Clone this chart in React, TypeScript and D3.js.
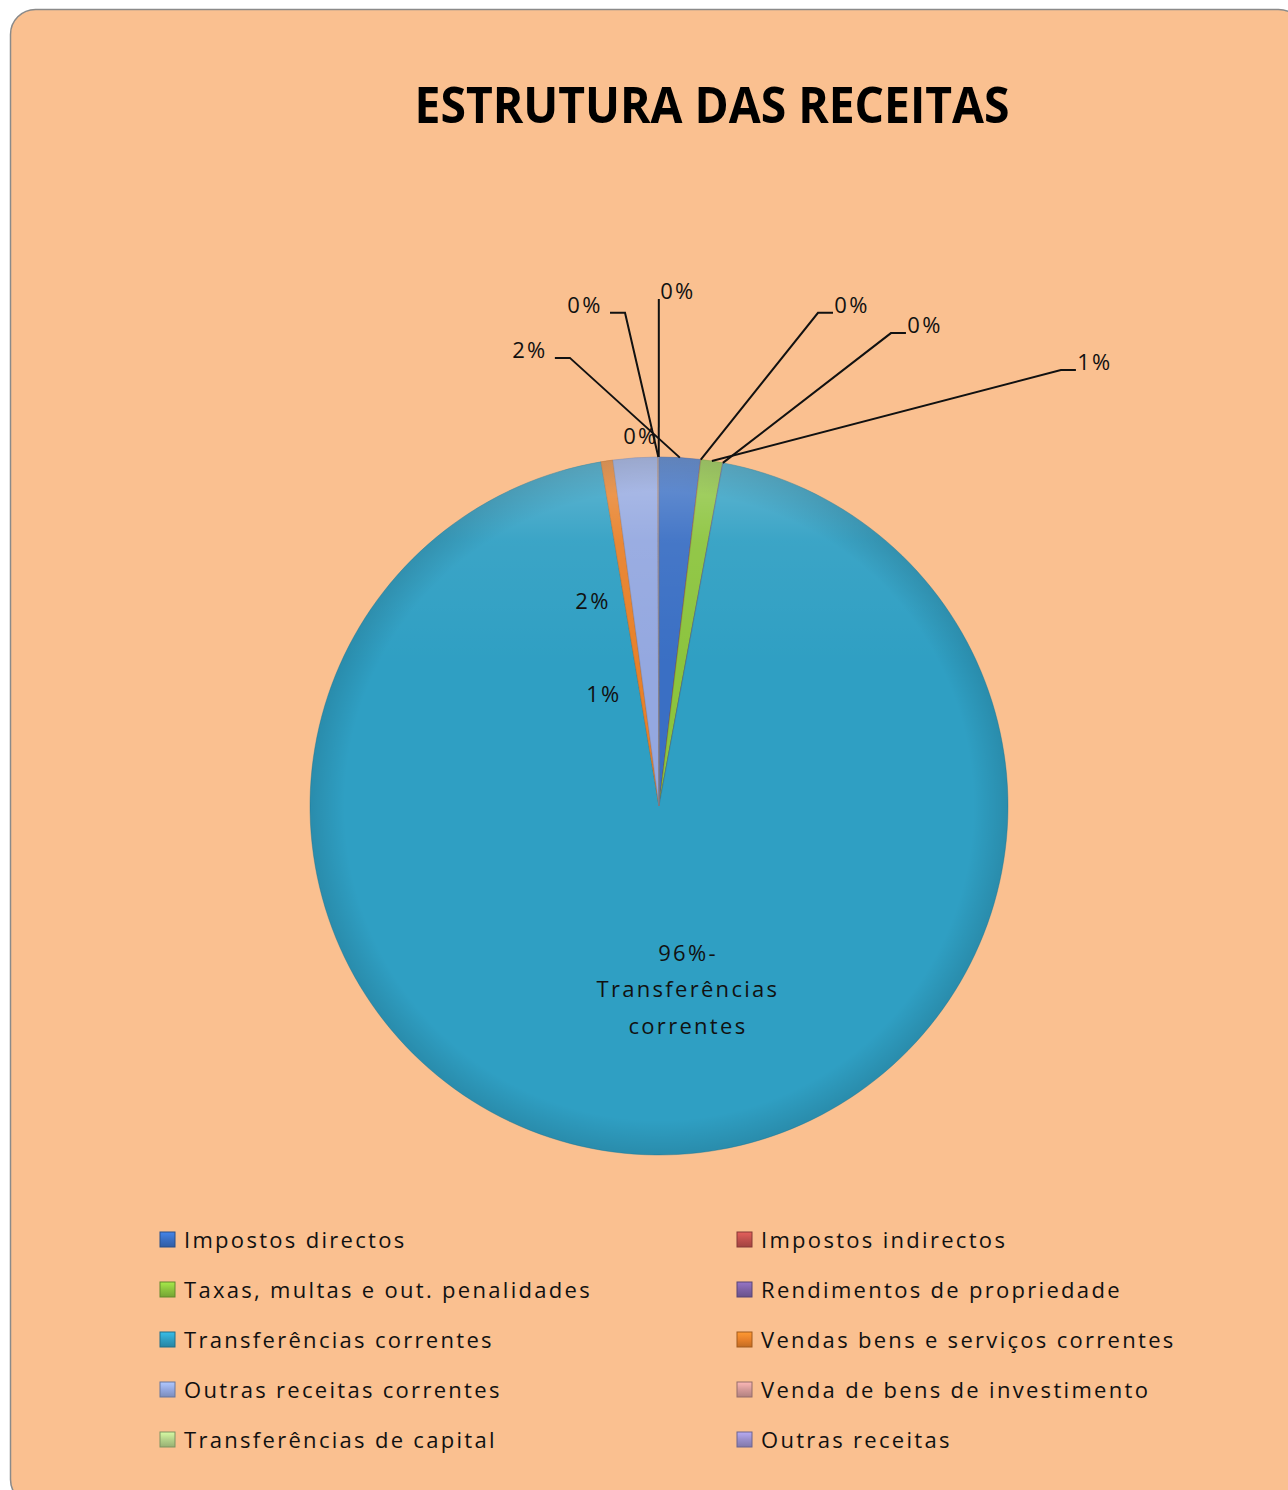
import React from 'react';
import * as d3 from 'd3';

// ---- data ----
const title = 'ESTRUTURA DAS RECEITAS';
const categories = [
  'Impostos directos',
  'Impostos indirectos',
  'Taxas, multas e out. penalidades',
  'Rendimentos de propriedade',
  'Transferências correntes',
  'Vendas bens e serviços correntes',
  'Outras receitas correntes',
  'Venda de bens de investimento',
  'Transferências de capital',
  'Outras receitas',
];
const values = [1.9, 0.02, 1.0, 0.02, 94.4, 0.55, 2.05, 0.02, 0.02, 0.02];
const dataLabels = ['2%', '0%', '1%', '0%', '96%-|Transferências|correntes', '1%', '2%', '0%', '0%', '0%'];
const colors = [
  '#3a6fc4', '#c0504d', '#8cc43e', '#7e62a6', '#2f9fc3',
  '#e8812a', '#94a8e0', '#d49a99', '#b4d28a', '#9a8fcb',
];

// ---- layout (label placement relative to pie centre, in radius units) ----
const labelOffsets: [number, number][] = [
  [-0.370, -1.284],
  [0.553, -1.413],
  [1.249, -1.249],
  [0.762, -1.355],
  [0.083, 0.444],
  [-0.158, -0.298],
  [-0.189, -0.564],
  [-0.052, -1.037],
  [-0.212, -1.413],
  [0.054, -1.453],
];

const W = 1288;
const H = 1490;
const CX = 659;
const CY = 806;
const R = 349;
const FONT = "'Open Sans', 'DejaVu Sans', sans-serif";

export default function App() {
  const pie = d3.pie<number>().sort(null).value((d) => d)(values);
  const arc = d3.arc<d3.PieArcDatum<number>>().innerRadius(0).outerRadius(R);

  const legendCols = [160, 737];
  const legendY0 = 1240;
  const legendStep = 50;

  return (
    <svg
      width={W}
      height={H}
      viewBox={`0 0 ${W} ${H}`}
      style={{ position: 'absolute', left: 0, top: 0, display: 'block' }}
    >
      <defs>
        <radialGradient id="rim" cx="0.5" cy="0.5" r="0.5">
          <stop offset="0.9" stopColor="#000" stopOpacity="0" />
          <stop offset="1" stopColor="#000" stopOpacity="0.12" />
        </radialGradient>
        <linearGradient id="topHi" x1="0" y1="0" x2="0" y2="1">
          <stop offset="0" stopColor="#fff" stopOpacity="0.26" />
          <stop offset="0.12" stopColor="#fff" stopOpacity="0.06" />
          <stop offset="0.3" stopColor="#fff" stopOpacity="0" />
        </linearGradient>
        {colors.map((c, i) => {
          const base = d3.color(c)!;
          return (
            <linearGradient key={i} id={`sw${i}`} x1="0" y1="0" x2="0" y2="1">
              <stop offset="0" stopColor={base.brighter(0.5).formatHex()} />
              <stop offset="0.5" stopColor={c} />
              <stop offset="1" stopColor={base.darker(0.5).formatHex()} />
            </linearGradient>
          );
        })}
      </defs>

      {/* chart area */}
      <rect
        x={10.5}
        y={9.5}
        width={1293}
        height={1495}
        rx={25}
        ry={25}
        fill="#fac090"
        stroke="#8a8a8a"
        strokeWidth={1.5}
      />

      {/* title */}
      <text
        x={712}
        y={123}
        textAnchor="middle"
        fontFamily={FONT}
        fontWeight={700}
        fontSize={50}
        textLength={595}
        lengthAdjust="spacingAndGlyphs"
        fill="#000"
      >
        {title}
      </text>

      {/* pie */}
      <g transform={`translate(${CX},${CY})`}>
        {pie.map((d, i) => (
          <path
            key={i}
            d={arc(d) || ''}
            fill={colors[i]}
            stroke={d3.color(colors[i])!.darker(0.8).formatHex()}
            strokeOpacity={0.5}
            strokeWidth={0.8}
          />
        ))}
        <circle r={R} fill="url(#topHi)" />
        <circle r={R} fill="url(#rim)" />
      </g>

      {/* data labels + leader lines */}
      {pie.map((d, i) => {
        const [ox, oy] = labelOffsets[i];
        const lx = CX + ox * R;
        const ly = CY + oy * R;
        const lines = dataLabels[i].split('|');
        const dist = Math.hypot(ox, oy);
        const mid = (d.startAngle + d.endAngle) / 2;
        const ax = CX + R * Math.sin(mid);
        const ay = CY - R * Math.cos(mid);
        let leader: string | null = null;
        if (dist > 1.15) {
          const halfW = 17;
          if (lx < ax - 20) {
            const x1 = lx + halfW + 8;
            const x2 = x1 + 15;
            leader = `M${x1},${ly}L${x2},${ly}L${ax},${ay}`;
          } else if (lx > ax + 20) {
            const x1 = lx - halfW - 2;
            const x2 = x1 - 15;
            leader = `M${x1},${ly}L${x2},${ly}L${ax},${ay}`;
          } else {
            const x1 = lx - halfW - 2;
            leader = `M${x1},${ly}L${ax},${ay}`;
          }
        }
        return (
          <g key={i}>
            {leader && <path d={leader} fill="none" stroke="#111" strokeWidth={2} />}
            <text
              x={lx}
              y={ly}
              textAnchor="middle"
              fontFamily={FONT}
              fontSize={22}
              letterSpacing={2.3}
              fill="#111"
            >
              {lines.map((t, j) => (
                <tspan key={j} x={lx} dy={j === 0 ? 0 : 36.5}>
                  {t}
                </tspan>
              ))}
            </text>
          </g>
        );
      })}

      {/* legend */}
      {categories.map((c, i) => {
        const col = i % 2;
        const row = Math.floor(i / 2);
        const x = legendCols[col];
        const y = legendY0 + row * legendStep;
        return (
          <g key={i}>
            <rect
              x={x}
              y={y - 8}
              width={15}
              height={15}
              fill={`url(#sw${i})`}
              stroke={d3.color(colors[i])!.darker(1).formatHex()}
              strokeWidth={1}
            />
            <text
              x={x + 24}
              y={y + 8}
              fontFamily={FONT}
              fontSize={22}
              letterSpacing={2.3}
              fill="#111"
            >
              {c}
            </text>
          </g>
        );
      })}
    </svg>
  );
}
